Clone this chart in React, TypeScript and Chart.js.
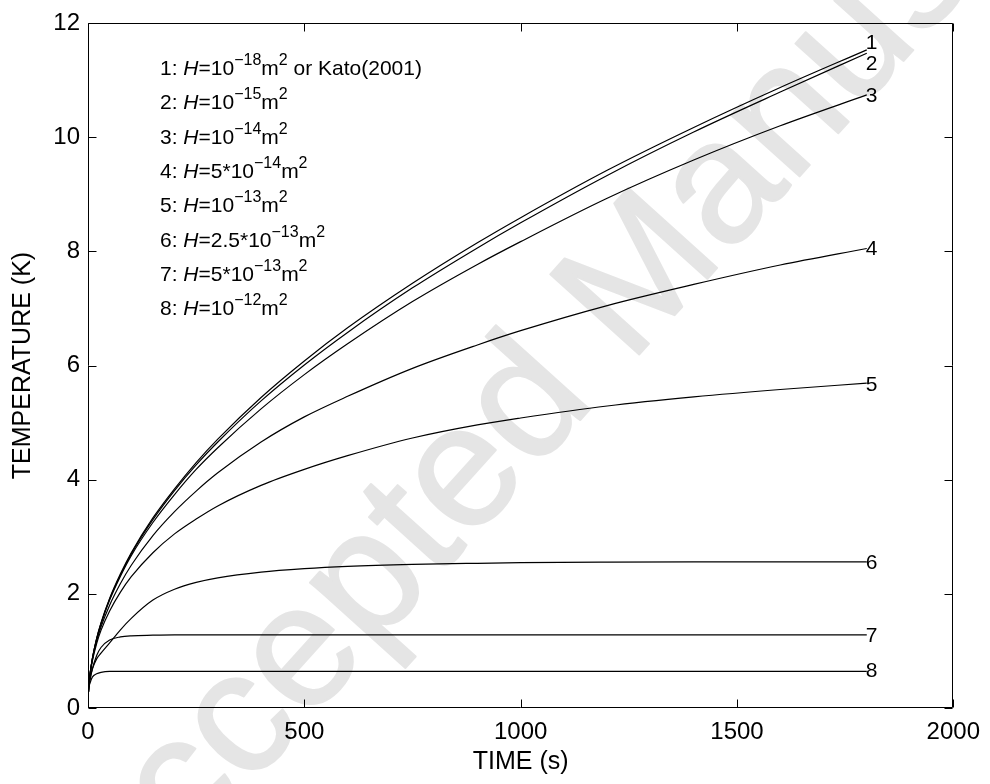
import React, { useEffect, useRef } from 'react';
import { Chart, registerables } from 'chart.js';

Chart.register(...registerables);

const FONT = '"Liberation Sans", Arial, Helvetica, sans-serif';

// time axis samples (s)
const TIME_S = [0, 1, 5, 10, 20, 30, 50, 75, 100, 150, 200, 250, 300, 400, 500, 600, 750, 900, 1000, 1200, 1400, 1600, 1800];

// temperature rise (K) for each permeability H
const TEMP_1 = [0, 0.27, 0.61, 0.86, 1.22, 1.49, 1.92, 2.35, 2.72, 3.33, 3.84, 4.30, 4.71, 5.44, 6.08, 6.66, 7.44, 8.15, 8.59, 9.42, 10.17, 10.87, 11.53];
const TEMP_2 = [0, 0.27, 0.61, 0.86, 1.21, 1.48, 1.91, 2.33, 2.70, 3.30, 3.81, 4.26, 4.66, 5.38, 6.01, 6.58, 7.36, 8.06, 8.50, 9.33, 10.09, 10.79, 11.47];
const TEMP_3 = [0, 0.27, 0.61, 0.86, 1.21, 1.47, 1.89, 2.31, 2.67, 3.25, 3.74, 4.18, 4.56, 5.24, 5.84, 6.38, 7.12, 7.77, 8.17, 8.93, 9.60, 10.20, 10.74];
const TEMP_4 = [0, 0.27, 0.60, 0.84, 1.17, 1.42, 1.80, 2.18, 2.50, 3.02, 3.44, 3.80, 4.12, 4.66, 5.10, 5.46, 5.95, 6.36, 6.61, 7.05, 7.42, 7.76, 8.05];
const TEMP_5 = [0, 0.27, 0.59, 0.82, 1.13, 1.36, 1.70, 2.03, 2.30, 2.72, 3.05, 3.31, 3.54, 3.90, 4.18, 4.42, 4.73, 4.96, 5.08, 5.29, 5.45, 5.58, 5.69];
const TEMP_6 = [0, 0.27, 0.52, 0.68, 0.86, 0.96, 1.14, 1.37, 1.57, 1.89, 2.08, 2.20, 2.28, 2.38, 2.44, 2.48, 2.515, 2.535, 2.545, 2.555, 2.56, 2.56, 2.56];
const TEMP_7 = [0, 0.27, 0.50, 0.68, 0.92, 1.06, 1.19, 1.245, 1.265, 1.275, 1.28, 1.28, 1.28, 1.28, 1.28, 1.28, 1.28, 1.28, 1.28, 1.28, 1.28, 1.28, 1.28];
const TEMP_8 = [0, 0.27, 0.44, 0.54, 0.60, 0.625, 0.64, 0.64, 0.64, 0.64, 0.64, 0.64, 0.64, 0.64, 0.64, 0.64, 0.64, 0.64, 0.64, 0.64, 0.64, 0.64, 0.64];

const CURVE_IDS = ['1', '2', '3', '4', '5', '6', '7', '8'];
const LEGEND_PREFIX = ['', '', '', '5*', '', '2.5*', '5*', ''];
const LEGEND_EXP = ['\u221218', '\u221215', '\u221214', '\u221214', '\u221213', '\u221213', '\u221213', '\u221212'];
const LEGEND_SUFFIX = [' or Kato(2001)', '', '', '', '', '', '', ''];

const X_TICKS = [0, 500, 1000, 1500, 2000];
const Y_TICKS = [0, 2, 4, 6, 8, 10, 12];

const X_TITLE = 'TIME (s)';
const Y_TITLE = 'TEMPERATURE (K)';
const WATERMARK = 'Accepted Manuscript';

const SERIES = [TEMP_1, TEMP_2, TEMP_3, TEMP_4, TEMP_5, TEMP_6, TEMP_7, TEMP_8];

// label vertical nudges in px (style only)
const LABEL_NUDGE = [-7, 11, 1, 1, 2, 1, 1, 0];

const watermarkPlugin = {
  id: 'watermark',
  beforeDraw(chart: any) {
    const ctx = chart.ctx;
    ctx.save();
    ctx.translate(112, 940);
    ctx.rotate(-48 * Math.PI / 180);
    ctx.font = `174px ${FONT}`;
    ctx.fillStyle = '#e5e5e5';
    ctx.strokeStyle = '#e5e5e5';
    ctx.lineWidth = 2;
    ctx.lineJoin = 'round';
    ctx.textAlign = 'left';
    ctx.textBaseline = 'alphabetic';
    ctx.fillText(WATERMARK, 0, 0);
    ctx.strokeText(WATERMARK, 0, 0);
    ctx.restore();
  },
};

const framePlugin = {
  id: 'frame',
  afterDatasetsDraw(chart: any) {
    const ctx = chart.ctx;
    const { left, right, top, bottom } = chart.chartArea;
    const xs = chart.scales.x;
    const ys = chart.scales.y;
    ctx.save();
    ctx.strokeStyle = '#000';
    ctx.lineWidth = 1;
    const L = Math.round(left) + 0.5;
    const R = Math.round(right) - 0.5;
    const T = Math.round(top) + 0.5;
    const B = Math.round(bottom) - 0.5;
    ctx.beginPath();
    ctx.rect(L, T, R - L, B - T);
    const tl = 8;
    X_TICKS.forEach((v) => {
      const px = Math.round(xs.getPixelForValue(v)) + 0.5;
      ctx.moveTo(px, B);
      ctx.lineTo(px, B - tl);
      ctx.moveTo(px, T);
      ctx.lineTo(px, T + tl);
    });
    Y_TICKS.forEach((v) => {
      const py = Math.round(ys.getPixelForValue(v)) + 0.5;
      ctx.moveTo(L, py);
      ctx.lineTo(L + tl, py);
      ctx.moveTo(R, py);
      ctx.lineTo(R - tl, py);
    });
    ctx.stroke();

    // curve end labels
    ctx.fillStyle = '#000';
    ctx.font = `21px ${FONT}`;
    ctx.textAlign = 'left';
    ctx.textBaseline = 'middle';
    SERIES.forEach((s, i) => {
      const lastT = TIME_S[TIME_S.length - 1];
      const px = xs.getPixelForValue(lastT);
      const py = ys.getPixelForValue(s[s.length - 1]);
      ctx.fillText(CURVE_IDS[i], px - 1, py + LABEL_NUDGE[i]);
    });

    // legend block
    const x0 = left + 72;
    const y0 = top + 52;
    const step = 34.3;
    const main = `21px ${FONT}`;
    const ital = `italic 21px ${FONT}`;
    const sup = `16px ${FONT}`;
    ctx.textBaseline = 'alphabetic';
    CURVE_IDS.forEach((id, i) => {
      let x = x0;
      const y = y0 + i * step;
      const put = (txt: string, font: string, dy = 0) => {
        ctx.font = font;
        ctx.fillText(txt, x, y + dy);
        x += ctx.measureText(txt).width;
      };
      put(`${id}: `, main);
      put('H', ital);
      put('=' + LEGEND_PREFIX[i] + '10', main);
      put(LEGEND_EXP[i], sup, -10);
      put('m', main);
      put('2', sup, -10);
      if (LEGEND_SUFFIX[i]) put(LEGEND_SUFFIX[i], main);
    });
    ctx.restore();
  },
};

export default function App() {
  const ref = useRef<HTMLCanvasElement | null>(null);
  useEffect(() => {
    document.body.style.margin = '0';
    const canvas = ref.current;
    if (!canvas) return;
    const datasets = SERIES.map((s, i) => ({
      label: CURVE_IDS[i],
      data: TIME_S.map((t, k) => ({ x: t, y: s[k] })),
      borderColor: '#000',
      borderWidth: 1.2,
      pointRadius: 0,
      fill: false,
      cubicInterpolationMode: 'monotone' as const,
    }));
    const chart = new Chart(canvas, {
      type: 'line',
      data: { datasets },
      options: {
        responsive: false,
        animation: false,
        events: [],
        layout: { padding: { top: 23, right: 33, left: 0, bottom: 0 } },
        plugins: { legend: { display: false }, tooltip: { enabled: false } },
        scales: {
          x: {
            type: 'linear',
            min: 0,
            max: 2000,
            afterBuildTicks: (s: any) => { s.ticks = X_TICKS.map((v) => ({ value: v })); },
            afterFit: (s: any) => { s.height = 76; },
            ticks: { color: '#000', font: { family: FONT, size: 24 }, padding: 10, maxRotation: 0, autoSkip: false, callback: (v: any) => String(v) },
            grid: { display: false, drawTicks: false },
            border: { display: false },
            title: { display: true, text: X_TITLE, color: '#000', font: { family: FONT, size: 25 }, padding: { top: 0, bottom: 7 } },
          },
          y: {
            type: 'linear',
            min: 0,
            max: 12,
            afterBuildTicks: (s: any) => { s.ticks = Y_TICKS.map((v) => ({ value: v })); },
            afterFit: (s: any) => { s.width = 88; },
            ticks: { color: '#000', font: { family: FONT, size: 24 }, padding: 8, autoSkip: false, callback: (v: any) => String(v) },
            grid: { display: false, drawTicks: false },
            border: { display: false },
            title: { display: true, text: Y_TITLE, color: '#000', font: { family: FONT, size: 25 }, padding: { top: 8, bottom: 0 } },
          },
        },
      },
      plugins: [watermarkPlugin, framePlugin],
    });
    return () => chart.destroy();
  }, []);
  return (
    <div style={{ width: 990, height: 784 }}>
      <canvas ref={ref} width={990} height={784} style={{ display: 'block' }} />
    </div>
  );
}
